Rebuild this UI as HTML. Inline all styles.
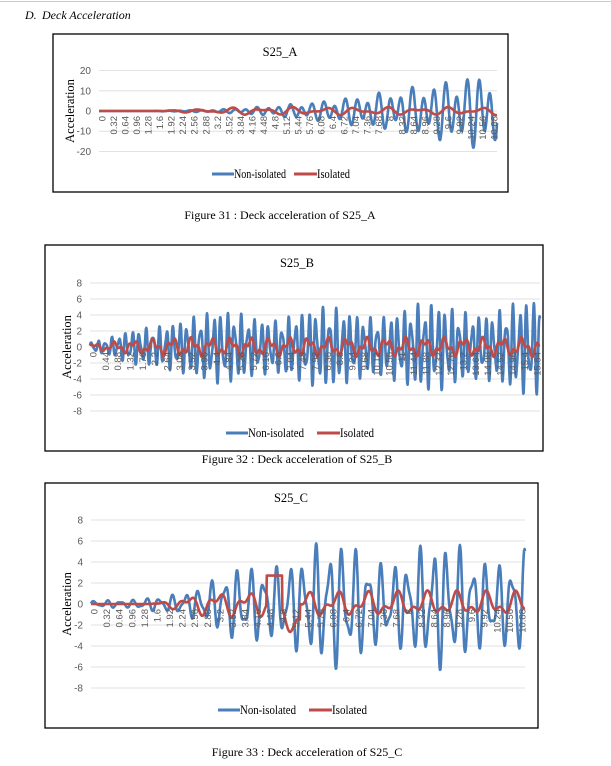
<!DOCTYPE html>
<html><head><meta charset="utf-8">
<style>
body{margin:0;background:#fff;width:611px;height:766px;overflow:hidden;font-family:"Liberation Serif",serif;}
svg{position:absolute;left:0;top:0;}
</style></head><body>
<svg id="s" width="611" height="766" xmlns="http://www.w3.org/2000/svg">
<line x1="0" y1="1.5" x2="611" y2="1.5" stroke="#ccc" stroke-width="1"/>
<text x="25" y="19" font-size="12" font-style="italic" font-family="Liberation Serif,serif">D.</text>
<text x="42" y="19" font-size="12" font-style="italic" font-family="Liberation Serif,serif">Deck Acceleration</text>
<g id="c"></g>
</svg>
<script>
var g=document.getElementById('c');var out='';
function chart(o){
 var s='';
 s+='<rect x="'+o.bx+'" y="'+o.by+'" width="'+o.bw+'" height="'+o.bh+'" fill="#fff" stroke="#000" stroke-width="1.3"/>';
 s+='<text x="'+o.tx+'" y="'+o.ty+'" font-size="12.5" text-anchor="middle" font-family="Liberation Serif,serif">'+o.title+'</text>';
 var yv=function(v){return o.y0-v*o.k;};
 o.ticks.forEach(function(t){var y=yv(t);
  s+='<line x1="'+o.px0+'" x2="'+o.px1+'" y1="'+y+'" y2="'+y+'" stroke="#d9d9d9" stroke-width="0.8"/>';
  s+='<text x="'+(o.px0-8)+'" y="'+(y+3.5)+'" font-size="10" fill="#595959" text-anchor="end" font-family="Liberation Sans,sans-serif">'+t+'</text>';});
 s+='<text transform="translate('+o.ax+','+o.y0+') rotate(-90)" font-size="12.5" text-anchor="middle" font-family="Liberation Serif,serif">Acceleration</text>';
 var N=o.n, pb='', pr='';
 for(var i=0;i<=N;i++){var t=i/N*o.T, x=o.px0+(o.px1-o.px0)*i/N;
  var b=o.blue(t), r=o.red(t);
  pb+=x.toFixed(1)+','+yv(b).toFixed(1)+' '; pr+=x.toFixed(1)+','+yv(r).toFixed(1)+' ';}
 s+='<polyline points="'+pb+'" fill="none" stroke="#4a7ebb" stroke-width="2.6" stroke-linejoin="round"/>';
 s+='<polyline points="'+pr+'" fill="none" stroke="#be4b48" stroke-width="2.6" stroke-linejoin="round"/>';
 var nl=o.labels;
 for(var j=0;j<nl;j++){var v=+(j*o.step).toFixed(2), x=o.px0+3+(o.px1-o.px0-6)*j/(nl-1);
  s+='<text transform="translate('+(x+3.5)+','+(o.y0+5)+') rotate(-90)" font-size="9.5" fill="#595959" text-anchor="end" font-family="Liberation Sans,sans-serif">'+v+'</text>';}
 s+='<line x1="'+o.l1+'" x2="'+(o.l1+22)+'" y1="'+o.ly+'" y2="'+o.ly+'" stroke="#4a7ebb" stroke-width="3"/>';
 s+='<text x="'+(o.l1+22)+'" y="'+(o.ly+4)+'" font-size="12.5" textLength="'+o.w1+'" lengthAdjust="spacingAndGlyphs" font-family="Liberation Serif,serif">Non-isolated</text>';
 s+='<line x1="'+o.l2+'" x2="'+(o.l2+23)+'" y1="'+o.ly+'" y2="'+o.ly+'" stroke="#be4b48" stroke-width="3"/>';
 s+='<text x="'+(o.l2+23)+'" y="'+(o.ly+4)+'" font-size="12.5" textLength="'+o.w2+'" lengthAdjust="spacingAndGlyphs" font-family="Liberation Serif,serif">Isolated</text>';
 s+='<text x="'+o.cx+'" y="'+o.cy+'" font-size="12" text-anchor="middle" font-family="Liberation Serif,serif">'+o.cap+'</text>';
 out+=s;
}
function env(t,a,b){return t<a?0:Math.min(1,(t-a)/(b-a));}
chart({bx:53,by:34,bw:455,bh:158,tx:280,ty:56,title:'S25_A',px0:99,px1:497,y0:111,k:2.02,ticks:[20,10,0,-10,-20],ax:74,
 n:900,T:11,labels:35,step:0.32,l1:212,w1:52,l2:294,w2:33,ly:174,cx:280,cy:219,cap:'Figure 31 : Deck acceleration of  S25_A',
 blue:function(t){var e=env(t,1.3,11)*(3+16*env(t,3,10.5));return e*(0.75*Math.sin(t*20.5)+0.3*Math.sin(t*13.1+1));},
 red:function(t){return env(t,1.5,4)*(1.2*Math.sin(t*7.3)+0.8*Math.sin(t*11.7+2));}});
chart({bx:45,by:245,bw:498,bh:206,tx:297,ty:267,title:'S25_B',px0:90,px1:540,y0:347,k:8,ticks:[8,6,4,2,0,-2,-4,-6,-8],ax:71,
 n:1400,T:16,labels:37,step:0.44,l1:226,w1:56,l2:317,w2:34,ly:433,cx:297,cy:463,cap:'Figure 32 : Deck acceleration of  S25_B',
 blue:function(t){var e=0.8+3.2*env(t,0.5,3)+1.6*env(t,3,16);return e*(0.8*Math.sin(t*26)+0.3*Math.sin(t*41+1))*(0.85+0.15*Math.sin(t*1.7));},
 red:function(t){return (0.3+0.5*env(t,0,3))*(Math.sin(t*9.1)+0.6*Math.sin(t*23+1));}});
chart({bx:45,by:483,bw:493,bh:245,tx:291,ty:502,title:'S25_C',px0:91,px1:525,y0:604,k:10.5,ticks:[8,6,4,2,0,-2,-4,-6,-8],ax:71,
 n:1000,T:11,labels:35,step:0.32,l1:218,w1:56,l2:309,w2:35,ly:710,cx:307,cy:756,cap:'Figure 33 : Deck acceleration of  S25_C',
 blue:function(t){var e=0.3+1.5*env(t,1,3)+3.2*env(t,3,5);return e*(0.8*Math.sin(t*19)+0.35*Math.sin(t*31+0.5))*(0.9+0.2*Math.sin(t*2.3));},
 red:function(t){var v=env(t,1.5,3)*(0.8*Math.sin(t*8.3)+0.5*Math.sin(t*17+1)); if(t>4.45&&t<4.85)v=2.7; if(t>4.85&&t<5.3)v-=1.5; return v;}});
g.innerHTML=out;
</script>
</body></html>
